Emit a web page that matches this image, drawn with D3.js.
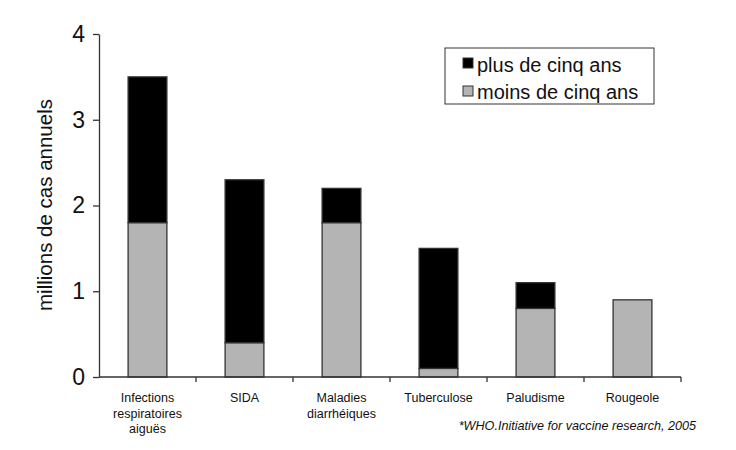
<!DOCTYPE html>
<html><head><meta charset="utf-8">
<script src="https://cdn.jsdelivr.net/npm/d3@7"></script>
<style>body{margin:0;background:#fff}svg{font-family:"Liberation Sans",Arial,sans-serif}</style>
</head><body><svg id="c" width="736" height="450"></svg>
<script>
const categories = [["Infections","respiratoires","aiguës"],["SIDA"],["Maladies","diarrhéiques"],["Tuberculose"],["Paludisme"],["Rougeole"]];
const moinsCinq = [1.8, 0.4, 1.8, 0.1, 0.8, 0.9];
const plusCinq = [1.7, 1.9, 0.4, 1.4, 0.3, 0.0];
const yTicks = [0,1,2,3,4];
const seriesNames = ["plus de cinq ans","moins de cinq ans"];
const colors = ["#000000","#b4b4b4"];

const svg = d3.select("#c");
const x0 = 99, x1 = 681, yTop = 34, yBot = 377;
const keys = categories.map((c,i)=>i);
const x = d3.scaleBand().domain(keys).range([x0,x1]).paddingInner(0.6).paddingOuter(0.3);
const xb = d3.scaleBand().domain(keys).range([x0,x1]);
const y = d3.scaleLinear().domain([0,4]).range([yBot,yTop]);

// bars
const data = keys.map(i=>({i, m:moinsCinq[i], p:plusCinq[i]}));
const stack = d3.stack().keys(["m","p"])(data);
const fillFor = {m:colors[1], p:colors[0]};
stack.forEach(layer=>{
  svg.append("g").selectAll("rect").data(layer.filter(d=>d[1]-d[0]>0)).join("rect")
    .attr("x",d=>x(d.data.i)).attr("width",x.bandwidth())
    .attr("y",d=>y(d[1])).attr("height",d=>y(d[0])-y(d[1]))
    .attr("fill",fillFor[layer.key]).attr("stroke","#333").attr("stroke-width",1.3);
});

// y axis
const ya = svg.append("g").attr("transform",`translate(${x0},0)`)
  .call(d3.axisLeft(y).tickValues(yTicks).tickFormat(d3.format("d")).tickSize(6).tickSizeOuter(0).tickPadding(8));
ya.select(".domain").attr("stroke","#333").attr("stroke-width",1.3);
ya.selectAll(".tick line").attr("stroke","#333").attr("stroke-width",1.3);
ya.selectAll(".tick text").attr("font-size",23).attr("fill","#111").attr("font-family","Liberation Sans, Arial, sans-serif");

// x axis
svg.append("line").attr("x1",x0).attr("x2",x1).attr("y1",yBot).attr("y2",yBot).attr("stroke","#333").attr("stroke-width",1.3);
svg.append("g").selectAll("line").data(keys.slice(1)).join("line")
  .attr("x1",d=>xb(d)).attr("x2",d=>xb(d)).attr("y1",yBot).attr("y2",yBot+5)
  .attr("stroke","#333").attr("stroke-width",1.3);
svg.append("line").attr("x1",x1).attr("x2",x1).attr("y1",yBot).attr("y2",yBot+5).attr("stroke","#333").attr("stroke-width",1.3);

// x labels
const lab = svg.append("g").selectAll("text").data(keys).join("text")
  .attr("x",d=>xb(d)+xb.bandwidth()/2).attr("y",402)
  .attr("text-anchor","middle").attr("font-size",12.5).attr("fill","#111");
lab.selectAll("tspan").data(d=>categories[d]).join("tspan")
  .attr("x",function(){return d3.select(this.parentNode).attr("x");})
  .attr("dy",(d,j)=>j===0?0:15.5).text(d=>d);

// y label
svg.append("text").attr("transform","translate(52,205) rotate(-90)")
  .attr("text-anchor","middle").attr("font-size",20.5).attr("fill","#111").text("millions de cas annuels");

// legend
const lg = svg.append("g");
lg.append("rect").attr("x",445).attr("y",48).attr("width",209).attr("height",56).attr("fill","#fff").attr("stroke","#333").attr("stroke-width",1);
seriesNames.forEach((n,k)=>{
  lg.append("rect").attr("x",463).attr("y",58+k*28).attr("width",10).attr("height",10)
    .attr("fill",colors[k]).attr("stroke","#333").attr("stroke-width",1);
  lg.append("text").attr("x",477).attr("y",72+k*27).attr("font-size",20).attr("fill","#111").text(n);
});

// footnote
svg.append("text").attr("x",696).attr("y",430).attr("text-anchor","end").attr("font-size",12.6)
  .attr("font-style","italic").attr("fill","#111").text("*WHO.Initiative for vaccine research, 2005");
</script></body></html>
